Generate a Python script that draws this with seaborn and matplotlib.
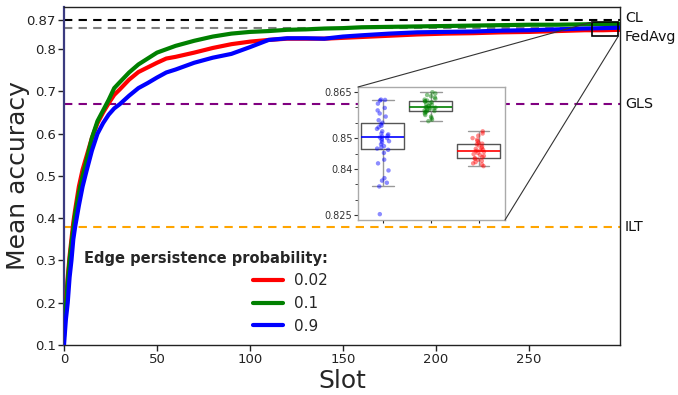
import numpy as np
import pandas as pd
import matplotlib
matplotlib.use("Agg")
import matplotlib.pyplot as plt
import seaborn as sns
from matplotlib.lines import Line2D
from matplotlib.patches import Rectangle, ConnectionPatch

# ---------------- data ----------------
slots = [0, 1, 2, 3, 4, 5, 6, 8, 10, 12, 15, 18, 21, 24, 27, 30, 35, 40, 45, 50,
         55, 60, 70, 80, 90, 100, 110, 120, 130, 140, 150, 160, 175, 190, 205,
         220, 235, 250, 265, 280, 290, 299]

acc_p002 = [0.13, 0.20, 0.26, 0.31, 0.35, 0.39, 0.42, 0.475, 0.515, 0.545, 0.59,
            0.625, 0.65, 0.672, 0.692, 0.705, 0.728, 0.746, 0.757, 0.768, 0.778,
            0.782, 0.792, 0.803, 0.812, 0.818, 0.822, 0.825, 0.825, 0.825, 0.827,
            0.829, 0.832, 0.835, 0.837, 0.838, 0.840, 0.841, 0.843, 0.845, 0.845,
            0.846]
acc_p01 = [0.12, 0.19, 0.25, 0.30, 0.34, 0.375, 0.41, 0.46, 0.50, 0.535, 0.59,
           0.63, 0.655, 0.68, 0.708, 0.722, 0.745, 0.764, 0.778, 0.792, 0.80,
           0.808, 0.82, 0.83, 0.837, 0.841, 0.843, 0.846, 0.847, 0.849, 0.850,
           0.852, 0.853, 0.854, 0.855, 0.856, 0.857, 0.858, 0.858, 0.859, 0.86,
           0.86]
acc_p09 = [0.10, 0.16, 0.20, 0.26, 0.30, 0.35, 0.38, 0.43, 0.475, 0.51, 0.56,
           0.60, 0.625, 0.645, 0.66, 0.67, 0.69, 0.708, 0.72, 0.733, 0.745,
           0.752, 0.768, 0.78, 0.789, 0.805, 0.822, 0.826, 0.826, 0.825, 0.830,
           0.833, 0.837, 0.840, 0.841, 0.842, 0.844, 0.845, 0.847, 0.849, 0.850,
           0.851]

series_labels = ["0.02", "0.1", "0.9"]
series_colors = ["red", "green", "blue"]

baseline_names = ["CL", "FedAvg", "GLS", "ILT"]
baseline_values = [0.87, 0.85, 0.67, 0.38]
baseline_colors = ["black", "grey", "purple", "orange"]

# final accuracies (inset)
final_p09 = [0.8625, 0.8624, 0.8622, 0.8612, 0.8598, 0.8590, 0.8580, 0.8570,
             0.8558, 0.8550, 0.8545, 0.8540, 0.8535, 0.8530, 0.8522, 0.8515,
             0.8512, 0.8508, 0.8505, 0.8502, 0.8500, 0.8497, 0.8493, 0.8490,
             0.8486, 0.8480, 0.8474, 0.8470, 0.8466, 0.8462, 0.8452, 0.8430,
             0.8418, 0.8395, 0.8370, 0.8362, 0.8355, 0.8343, 0.8253]
final_p01 = [0.8649, 0.8645, 0.8640, 0.8636, 0.8632, 0.8628, 0.8625, 0.8622,
             0.8620, 0.8619, 0.8617, 0.8614, 0.8611, 0.8608, 0.8605, 0.8603,
             0.8601, 0.8600, 0.8599, 0.8598, 0.8596, 0.8594, 0.8592, 0.8590,
             0.8588, 0.8587, 0.8586, 0.8584, 0.8580, 0.8575, 0.8570, 0.8565,
             0.8560, 0.8555]
final_p002 = [0.8522, 0.8515, 0.8508, 0.8500, 0.8495, 0.8490, 0.8485, 0.8482,
              0.8480, 0.8476, 0.8472, 0.8468, 0.8465, 0.8462, 0.8460, 0.8458,
              0.8455, 0.8452, 0.8448, 0.8445, 0.8442, 0.8438, 0.8435, 0.8433,
              0.8430, 0.8426, 0.8422, 0.8418, 0.8414, 0.8409]
inset_order = ["0.9", "0.1", "0.02"]
inset_colors = ["blue", "green", "red"]

# ---------------- frames ----------------
df = pd.DataFrame({
    "slot": slots * 3,
    "acc": acc_p002 + acc_p01 + acc_p09,
    "p": [series_labels[0]] * len(slots) + [series_labels[1]] * len(slots)
         + [series_labels[2]] * len(slots),
})
df_final = pd.DataFrame({
    "p": ["0.9"] * len(final_p09) + ["0.1"] * len(final_p01) + ["0.02"] * len(final_p002),
    "acc": final_p09 + final_p01 + final_p002,
})
palette = dict(zip(series_labels, series_colors))

# ---------------- plot ----------------
sns.set_style("ticks")
plt.rcParams["font.family"] = ["DejaVu Sans"]

fig = plt.figure(figsize=(6.78, 3.95), dpi=100)
ax = fig.add_axes([0.0944, 0.1266, 0.8201, 0.8557])

for name, val, col in zip(baseline_names, baseline_values, baseline_colors):
    ax.axhline(val, color=col, ls=(0, (4, 3)), lw=1.5, zorder=1)

sns.lineplot(data=df, x="slot", y="acc", hue="p", palette=palette,
             hue_order=series_labels, lw=3, ax=ax, legend=False, zorder=3)

ax.set_xlim(0, 299)
ax.set_ylim(0.1, 0.9)
ax.set_xticks([0, 50, 100, 150, 200, 250])
ax.set_yticks([0.1, 0.2, 0.3, 0.4, 0.5, 0.6, 0.7, 0.8, 0.87])
ax.set_yticklabels(["0.1", "0.2", "0.3", "0.4", "0.5", "0.6", "0.7", "0.8", "0.87"])
ax.tick_params(labelsize=9.5, length=4, width=1, colors="#222222", pad=2)
ax.set_xlabel("Slot", fontsize=18, labelpad=2)
ax.set_ylabel("Mean accuracy", fontsize=18, labelpad=1)
ax.yaxis.set_label_coords(-0.062, 0.5)
for s in ax.spines.values():
    s.set_color("#222222")
    s.set_linewidth(1.0)
ax.spines["left"].set_color("#3b3b80")
ax.spines["left"].set_linewidth(1.6)

# right side labels
label_y = [0.875, 0.83, 0.67, 0.38]
for name, yv in zip(baseline_names, label_y):
    ax.text(1.009, yv, name, transform=ax.get_yaxis_transform(),
            fontsize=10.3, va="center", ha="left", color="#111111")

# legend
handles = [Line2D([0], [0], color=c, lw=3) for c in series_colors]
leg = ax.legend(handles, series_labels, title="Edge persistence probability:",
                frameon=False, alignment="right", fontsize=11,
                title_fontproperties={"weight": "bold", "size": 10.5},
                handlelength=2.0, handletextpad=0.7, labelspacing=0.5,
                loc="upper left", bbox_to_anchor=(70 / 678, 1 - 237 / 395),
                bbox_transform=fig.transFigure)

# zoom rectangle
rect = Rectangle((284, 0.8305), 14, 0.034, fill=False, edgecolor="black",
                 lw=1.2, zorder=5)
ax.add_patch(rect)

# inset
axins = fig.add_axes([358 / 678, 1 - 220 / 395, 147 / 678, 133 / 395])
axins.set_facecolor("white")
sns.boxplot(data=df_final, x="p", y="acc", order=inset_order, width=0.9,
            showfliers=False, fill=False, color="#555555", linewidth=1.0,
            ax=axins,
            medianprops={"linewidth": 1.2},
            whiskerprops={"color": "#999999"},
            capprops={"color": "#999999"},
            boxprops={"color": "#555555"})

# recolor medians
median_lines = []
for ln in axins.lines:
    xd, yd = np.asarray(ln.get_xdata()), np.asarray(ln.get_ydata())
    if len(xd) == 2 and yd[0] == yd[1] and abs(xd[1] - xd[0]) > 0.6:
        median_lines.append(ln)
median_lines = sorted(median_lines, key=lambda l: l.get_xdata()[0])
for ln, c in zip(median_lines, inset_colors):
    ln.set_color(c)

sns.stripplot(data=df_final, x="p", y="acc", order=inset_order,
              hue="p", palette=dict(zip(inset_order, inset_colors)),
              jitter=0.13, size=3.2, alpha=0.45, ax=axins, legend=False,
              zorder=3)

axins.set_xlim(-0.52, 2.55)
axins.set_ylim(0.8234, 0.8666)
axins.set_yticks([0.825, 0.84, 0.85, 0.865])
axins.set_yticklabels(["0.825", "0.84", "0.85", "0.865"])
axins.set_yticks([0.83, 0.835, 0.845, 0.855, 0.86], minor=True)
axins.tick_params(axis="y", labelsize=7, length=3, colors="#333333", pad=1)
axins.tick_params(axis="y", which="minor", length=2)
axins.tick_params(axis="x", labelbottom=False, length=2)
axins.set_xlabel("")
axins.set_ylabel("")
for s in axins.spines.values():
    s.set_color("#aaaaaa")
    s.set_linewidth(1.0)

# connectors
for (xa, ya), (xb, yb) in [((0, 1), (284, 0.8645)), ((1, 0), (298, 0.8305))]:
    cp = ConnectionPatch(xyA=(xa, ya), coordsA=axins.transAxes,
                         xyB=(xb, yb), coordsB=ax.transData,
                         color="#333333", lw=0.8)
    fig.add_artist(cp)

fig.savefig("out.png", dpi=100)
